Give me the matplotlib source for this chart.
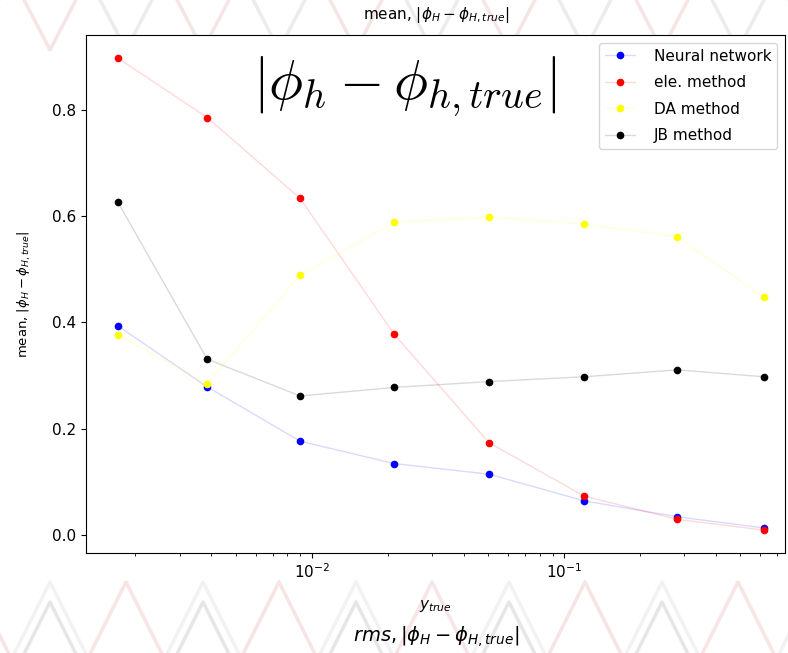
import numpy as np
import matplotlib
matplotlib.use('Agg')
import matplotlib.pyplot as plt
from matplotlib.lines import Line2D

# x positions (y_true) shared by all series
y_true = [0.0017, 0.00385, 0.0090, 0.0212, 0.0505, 0.120, 0.281, 0.621]

nn_vals = [0.394, 0.279, 0.177, 0.135, 0.115, 0.065, 0.035, 0.014]
ele_vals = [0.897, 0.785, 0.633, 0.378, 0.174, 0.074, 0.030, 0.010]
da_vals = [0.377, 0.285, 0.489, 0.588, 0.598, 0.585, 0.561, 0.447]
jb_vals = [0.627, 0.331, 0.262, 0.278, 0.289, 0.298, 0.311, 0.298]

labels = ['Neural network', 'ele. method', 'DA method', 'JB method']
colors = ['blue', 'red', 'yellow', 'black']

W, H = 788, 653
fig = plt.figure(figsize=(W / 100, H / 100), dpi=100)


def fig_line(xs, ys, color):
    # xs, ys in pixel coords measured from top-left
    fig.add_artist(Line2D([x / W for x in xs], [1 - y / H for y in ys],
                          transform=fig.transFigure, color=color, lw=2.5,
                          zorder=0))


# faint decorative background of chevrons
for k in range(-1, 7):
    xp = 50 + k * 153
    fig_line([xp - 30, xp, xp + 30], [662, 602, 662], '#e6e6e6')
    fig_line([xp - 40, xp, xp + 40], [662, 582, 662], '#f2f2f2')
    xq = xp + 76
    fig_line([xq - 40, xq, xq + 40], [662, 582, 662], '#f7e4e4')
    fig_line([xq - 30, xq, xq + 30], [-8, 50, -8], '#ececec')
    fig_line([xp - 30, xp, xp + 30], [-8, 50, -8], '#f7e4e4')

ax = fig.add_axes([86 / W, 1 - 553 / H, (785 - 86) / W, (553 - 35) / H])
ax.set_facecolor('white')

series = [nn_vals, ele_vals, da_vals, jb_vals]
for vals, lab, col in zip(series, labels, colors):
    rgba = matplotlib.colors.to_rgba(col, 0.15)
    ax.plot(y_true, vals, '-', color=rgba, lw=1, marker='o', ms=4.5,
            mfc=col, mec=col, label=lab)

ax.set_xscale('log')
ax.set_xlim(0.001274, 0.7512)
ax.set_ylim(-0.033, 0.94)
ax.set_yticks([0.0, 0.2, 0.4, 0.6, 0.8])
ax.tick_params(labelsize=11)

ax.text(0.456, 0.9, r'$|\phi_h - \phi_{h,true}|$', transform=ax.transAxes,
        ha='center', va='center', fontsize=41, math_fontfamily='cm')

ax.legend(loc='upper right', fontsize=11, borderaxespad=0.5,
          handletextpad=1.2, labelspacing=0.75)

ax.set_ylabel(r'mean, $|\phi_H - \phi_{H,true}|$', fontsize=9.5, labelpad=14)
ax.set_xlabel(r'$y_{true}$', fontsize=11, labelpad=12)

fig.text(0.553, 1 - 15 / H, r'mean, $|\phi_H - \phi_{H,true}|$',
         ha='center', va='center', fontsize=11)
fig.text(0.553, 1 - 637 / H, r'$rms, |\phi_H - \phi_{H,true}|$',
         ha='center', va='center', fontsize=14)

fig.savefig('out.png', dpi=100, facecolor='white')
